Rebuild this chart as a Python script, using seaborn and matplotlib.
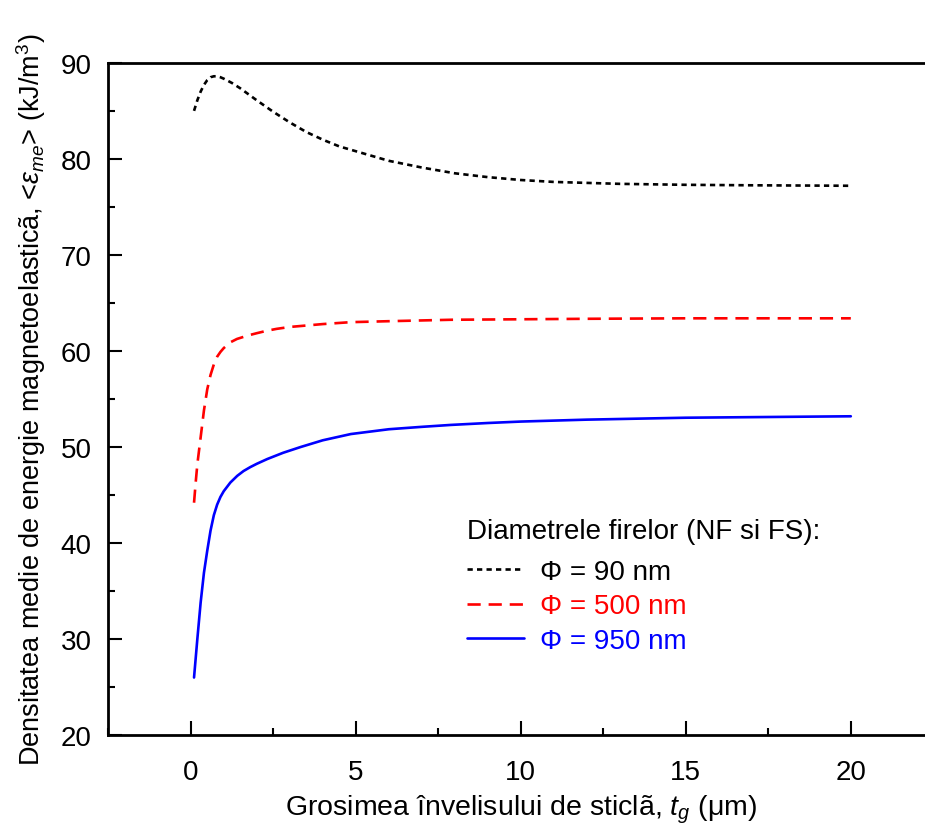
import numpy as np
import matplotlib
matplotlib.use("Agg")
import matplotlib.pyplot as plt
import pandas as pd
import seaborn as sns
from matplotlib.ticker import MultipleLocator

# --- Data ---
x_90 = [0.1, 0.2, 0.3, 0.4, 0.5, 0.6, 0.7, 0.8, 0.9, 1.0, 1.25, 1.5, 2.0, 2.5, 3.0,
        3.5, 4.0, 4.5, 5.0, 6.0, 7.0, 8.0, 9.0, 10.0, 11.0, 12.0, 13.0, 14.0, 15.0,
        17.0, 20.0]
y_90 = [85.0, 86.1, 87.0, 87.7, 88.2, 88.5, 88.6, 88.6, 88.5, 88.35, 87.9, 87.35,
        86.1, 84.9, 83.8, 82.8, 82.0, 81.3, 80.8, 79.8, 79.1, 78.5, 78.1, 77.8, 77.6,
        77.5, 77.4, 77.35, 77.3, 77.25, 77.2]

x_500 = [0.1, 0.15, 0.2, 0.3, 0.4, 0.5, 0.6, 0.7, 0.8, 0.9, 1.0, 1.2, 1.4, 1.72, 2.0,
         2.3, 2.6, 3.0, 3.5, 4.0, 4.85, 6.0, 7.9, 10.0, 12.0, 15.0, 20.0]
y_500 = [44.2, 46.3, 48.2, 51.0, 53.8, 56.0, 57.5, 58.6, 59.4, 59.9, 60.3, 60.9,
         61.25, 61.6, 61.85, 62.1, 62.3, 62.5, 62.65, 62.8, 63.0, 63.1, 63.25, 63.3,
         63.35, 63.4, 63.4]

x_950 = [0.1, 0.15, 0.2, 0.3, 0.4, 0.5, 0.6, 0.7, 0.8, 0.9, 1.0, 1.2, 1.41, 1.6, 1.8,
         2.0, 2.32, 2.8, 3.33, 4.0, 4.85, 6.0, 7.0, 7.88, 9.0, 10.0, 12.0, 15.0, 20.0]
y_950 = [26.0, 28.0, 30.0, 33.8, 36.9, 39.2, 41.3, 42.9, 44.0, 44.8, 45.4, 46.3,
         47.0, 47.5, 47.9, 48.25, 48.75, 49.4, 50.0, 50.7, 51.35, 51.85, 52.1, 52.3,
         52.5, 52.65, 52.85, 53.05, 53.2]

labels = ["Φ = 90 nm", "Φ = 500 nm", "Φ = 950 nm"]
colors = ["black", "#ff0000", "#0000ff"]
styles = [(0, (2.0, 1.6)), (0, (5.0, 3.0)), "-"]

sns.set_style("ticks")
plt.rcParams['font.family'] = ['Liberation Sans', 'DejaVu Sans']
plt.rcParams['mathtext.fontset'] = 'custom'
plt.rcParams['mathtext.rm'] = 'Liberation Sans'
plt.rcParams['mathtext.it'] = 'Liberation Sans:italic'
plt.rcParams['text.color'] = 'black'
plt.rcParams['axes.labelcolor'] = 'black'
plt.rcParams['xtick.color'] = 'black'
plt.rcParams['ytick.color'] = 'black'
plt.rcParams['axes.edgecolor'] = 'black'

fig = plt.figure(figsize=(9.25, 8.29), dpi=100)
ax = fig.add_axes([0.117, 0.112, 0.892, 0.811])

series = [(x_90, y_90), (x_500, y_500), (x_950, y_950)]
for (xs, ys), lab, c, ls in zip(series, labels, colors, styles):
    df = pd.DataFrame({"t": xs, "e": ys})
    sns.lineplot(data=df, x="t", y="e", ax=ax, color=c, linestyle=ls,
                 linewidth=1.9, label=lab)

ax.set_xlim(-2.5, 22.5)
ax.set_ylim(20, 90)
ax.xaxis.set_major_locator(MultipleLocator(5))
ax.xaxis.set_minor_locator(MultipleLocator(2.5))
ax.yaxis.set_major_locator(MultipleLocator(10))
ax.yaxis.set_minor_locator(MultipleLocator(5))
ax.tick_params(which='both', direction='in', width=1.5, labelsize=20,
               top=False, right=False)
ax.tick_params(which='major', length=10, pad=12)
ax.tick_params(axis='x', which='major', pad=17)
ax.tick_params(which='minor', length=5)
for sp in ax.spines.values():
    sp.set_linewidth(2)
ax.spines['right'].set_visible(False)

ax.set_xlabel(r'Grosimea învelisului de sticlã, $t_g$ (μm)', fontsize=20.5, labelpad=6)
ax.set_ylabel(r'Densitatea medie de energie magnetoelasticã, <$\varepsilon_{me}$> (kJ/m$^3$)',
              fontsize=19.5, labelpad=9)

leg = ax.legend(title="Diametrele firelor (NF si FS):", loc='lower left',
                bbox_to_anchor=(0.405, 0.084), frameon=False, fontsize=20,
                title_fontsize=20, labelcolor='linecolor', handlelength=2.05,
                handletextpad=0.55, labelspacing=0.3, alignment='left')
leg._legend_box.sep = 11  # extra gap below the title

fig.savefig("out.png", dpi=100)
